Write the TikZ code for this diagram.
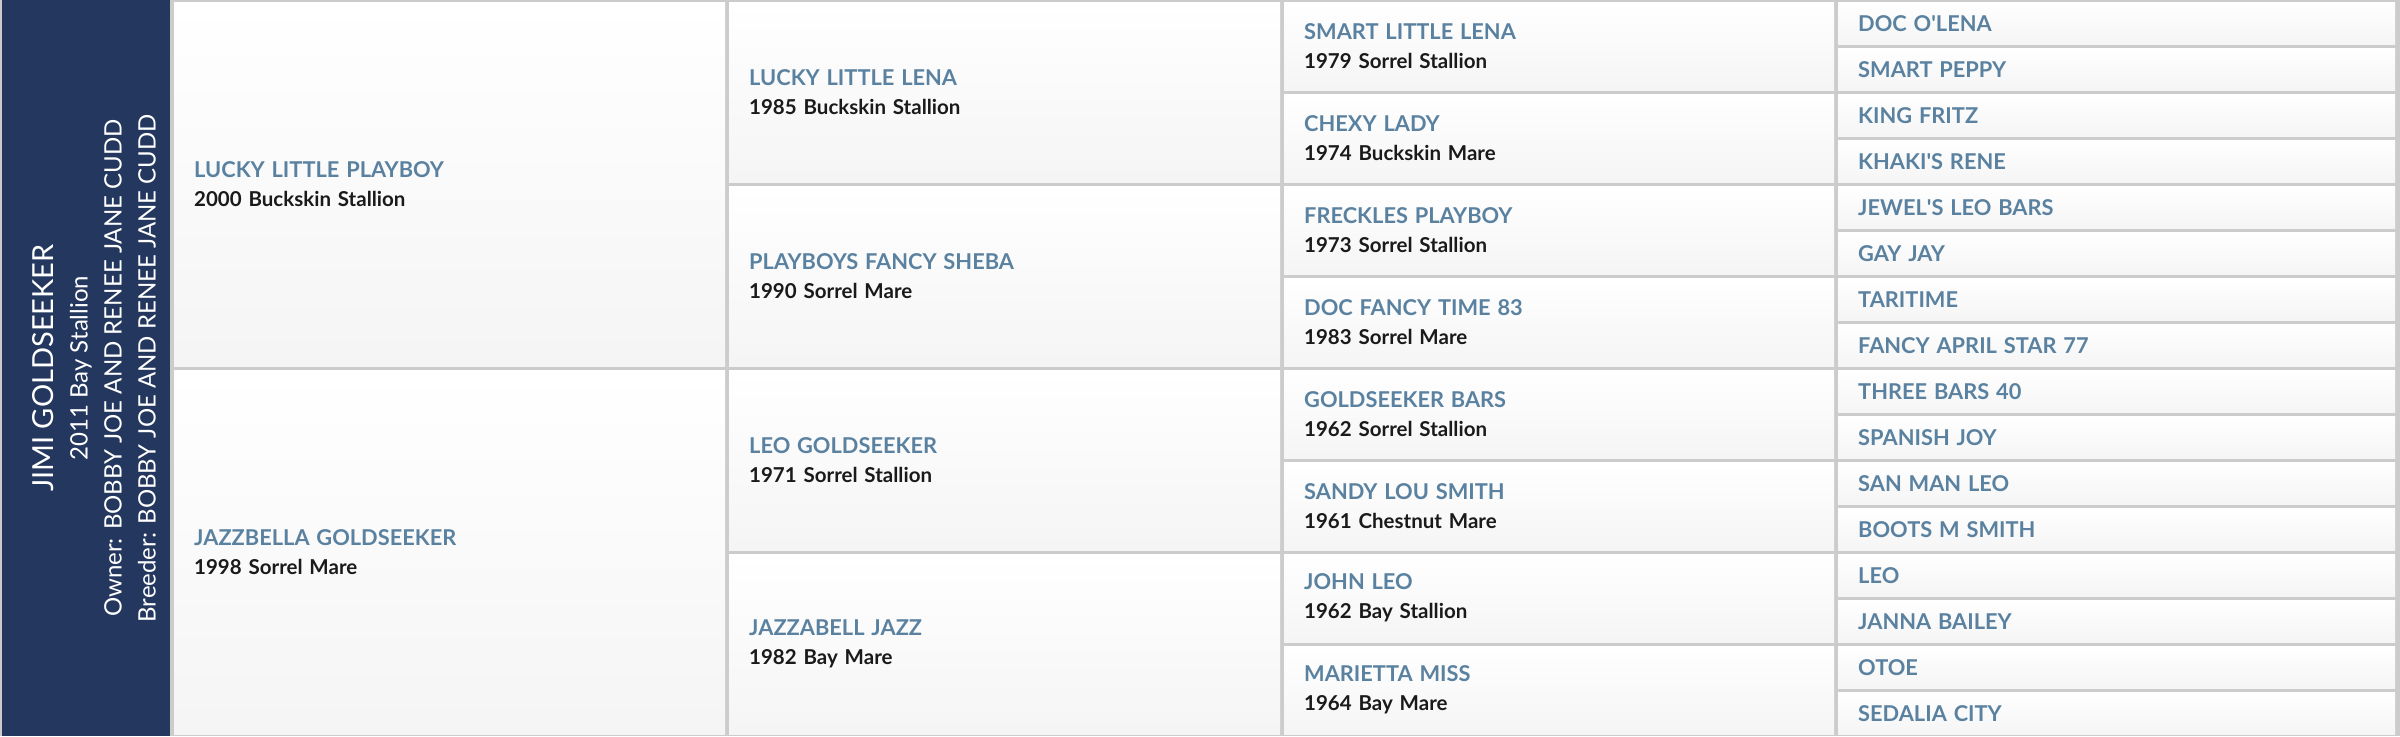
\documentclass[tikz,border=0pt]{standalone}
\usepackage{fontspec}
\setmainfont{Lato}
\usepackage{tikz}

\definecolor{navy}{HTML}{24375E}
\definecolor{nameblue}{HTML}{5A82A0}
\definecolor{detailblack}{HTML}{1A1A1A}
\definecolor{gridgrey}{HTML}{CCCCCC}

\newcommand{\hname}[1]{{\color{nameblue}\fontsize{21.8}{28}\selectfont #1}}

\begin{document}
\begin{tikzpicture}[x=1pt, y=-1pt, line join=bevel]
	\tikzstyle{cell} = [anchor=north west, inner xsep=20pt, inner ysep=0pt, align=left, top color=white, bottom color=black!4, text=detailblack, font=\bfseries\fontsize{20.5}{29}\selectfont];
	\tikzstyle{gen1} = [cell, minimum height=364pt, text width=511pt];
	\tikzstyle{gen2} = [cell, minimum height=180pt, text width=511pt];
	\tikzstyle{gen3} = [cell, minimum height=88pt, text width=510pt];
	\tikzstyle{gen4} = [cell, minimum height=42pt, text width=517pt];
	\tikzstyle{panel} = [anchor=north west, fill=navy, minimum width=168pt, minimum height=736pt, inner sep=0pt];

	\fill[gridgrey] (0,0) rectangle (2400,736);

	\node[panel] at (2,0) (subject) {};
	\node[rotate=90, align=center, inner sep=0pt, text=white, font=\fontsize{24}{34}\selectfont] at ([xshift=8pt]subject.center) (subjecttext)
		{{\fontsize{29}{35}\selectfont JIMI GOLDSEEKER}\\2011 Bay Stallion\\Owner: BOBBY JOE AND RENEE JANE CUDD\\Breeder: BOBBY JOE AND RENEE JANE CUDD};

	\node[gen1] at (174,2) (s) {\hname{LUCKY LITTLE PLAYBOY}\\2000 Buckskin Stallion};
	\node[gen1] at (174,370) (d) {\hname{JAZZBELLA GOLDSEEKER}\\1998 Sorrel Mare};

	\node[gen2] at (729,2) (ss) {\hname{LUCKY LITTLE LENA}\\1985 Buckskin Stallion};
	\node[gen2] at (729,186) (sd) {\hname{PLAYBOYS FANCY SHEBA}\\1990 Sorrel Mare};
	\node[gen2] at (729,370) (ds) {\hname{LEO GOLDSEEKER}\\1971 Sorrel Stallion};
	\node[gen2] at (729,554) (dd) {\hname{JAZZABELL JAZZ}\\1982 Bay Mare};

	\node[gen3] at (1284,2) (sss) {\hname{SMART LITTLE LENA}\\1979 Sorrel Stallion};
	\node[gen3] at (1284,94) (ssd) {\hname{CHEXY LADY}\\1974 Buckskin Mare};
	\node[gen3] at (1284,186) (sds) {\hname{FRECKLES PLAYBOY}\\1973 Sorrel Stallion};
	\node[gen3] at (1284,278) (sdd) {\hname{DOC FANCY TIME 83}\\1983 Sorrel Mare};
	\node[gen3] at (1284,370) (dss) {\hname{GOLDSEEKER BARS}\\1962 Sorrel Stallion};
	\node[gen3] at (1284,462) (dsd) {\hname{SANDY LOU SMITH}\\1961 Chestnut Mare};
	\node[gen3] at (1284,554) (dds) {\hname{JOHN LEO}\\1962 Bay Stallion};
	\node[gen3] at (1284,646) (ddd) {\hname{MARIETTA MISS}\\1964 Bay Mare};

	\node[gen4] at (1838,2) (ssss) {\hname{DOC O\textquotesingle LENA}};
	\node[gen4] at (1838,48) (sssd) {\hname{SMART PEPPY}};
	\node[gen4] at (1838,94) (ssds) {\hname{KING FRITZ}};
	\node[gen4] at (1838,140) (ssdd) {\hname{KHAKI\textquotesingle S RENE}};
	\node[gen4] at (1838,186) (sdss) {\hname{JEWEL\textquotesingle S LEO BARS}};
	\node[gen4] at (1838,232) (sdsd) {\hname{GAY JAY}};
	\node[gen4] at (1838,278) (sdds) {\hname{TARITIME}};
	\node[gen4] at (1838,324) (sddd) {\hname{FANCY APRIL STAR 77}};
	\node[gen4] at (1838,370) (dsss) {\hname{THREE BARS 40}};
	\node[gen4] at (1838,416) (dssd) {\hname{SPANISH JOY}};
	\node[gen4] at (1838,462) (dsds) {\hname{SAN MAN LEO}};
	\node[gen4] at (1838,508) (dsdd) {\hname{BOOTS M SMITH}};
	\node[gen4] at (1838,554) (ddss) {\hname{LEO}};
	\node[gen4] at (1838,600) (ddsd) {\hname{JANNA BAILEY}};
	\node[gen4] at (1838,646) (ddds) {\hname{OTOE}};
	\node[gen4] at (1838,692) (dddd) {\hname{SEDALIA CITY}};
\end{tikzpicture}
\end{document}
